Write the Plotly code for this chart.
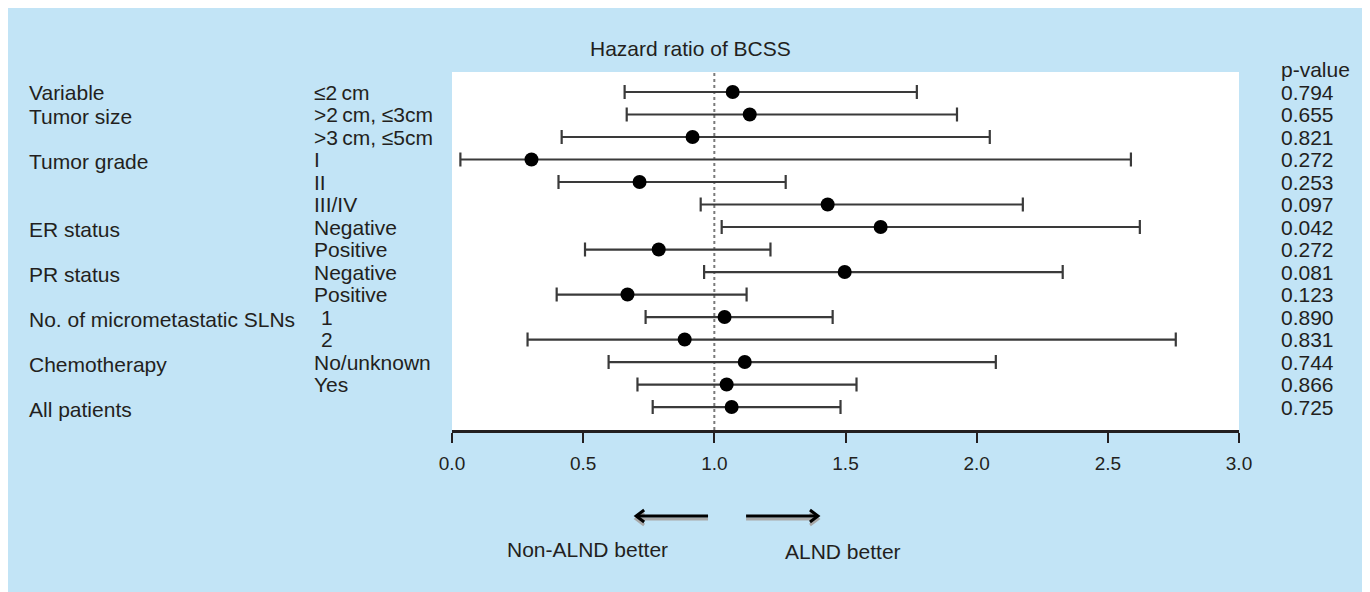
import plotly.graph_objects as go

# ---------------- data ----------------
group_labels = ["Variable", "Tumor size", "Tumor grade", "ER status", "PR status",
                "No. of micrometastatic SLNs", "Chemotherapy", "All patients"]
group_rows = [0, 1, 3, 6, 8, 10, 12, 14]

sub_labels = ["≤2\u2009cm", ">2\u2009cm, ≤3cm", ">3\u2009cm, ≤5cm", "I", "II", "III/IV",
              "Negative", "Positive", "Negative", "Positive", "1", "2",
              "No/unknown", "Yes", ""]

hr = [1.070, 1.135, 0.917, 0.303, 0.715, 1.432, 1.634, 0.788, 1.497, 0.669,
      1.039, 0.887, 1.116, 1.047, 1.066]
ci_low = [0.658, 0.666, 0.418, 0.032, 0.406, 0.948, 1.028, 0.507, 0.961, 0.399,
          0.738, 0.288, 0.597, 0.707, 0.765]
ci_high = [1.772, 1.925, 2.050, 2.588, 1.272, 2.176, 2.622, 1.214, 2.328, 1.123,
           1.451, 2.759, 2.073, 1.542, 1.481]
p_values = ["0.794", "0.655", "0.821", "0.272", "0.253", "0.097", "0.042", "0.272",
            "0.081", "0.123", "0.890", "0.831", "0.744", "0.866", "0.725"]

tick_vals = [0.0, 0.5, 1.0, 1.5, 2.0, 2.5, 3.0]
tick_text = ["0.0", "0.5", "1.0", "1.5", "2.0", "2.5", "3.0"]

title_text = "Hazard ratio of BCSS"
pvalue_header = "p-value"
left_note = "Non-ALND better"
right_note = "ALND better"

# ---------------- styling ----------------
FONT = "Liberation Sans, Arial, Helvetica, sans-serif"
TXT = "#231f20"
BLUE = "#c2e4f6"
FS = 21

rows = list(range(len(hr)))
err_plus = [h - v for h, v in zip(ci_high, hr)]
err_minus = [v - l for v, l in zip(hr, ci_low)]

fig = go.Figure()
fig.add_trace(go.Scatter(
    x=hr, y=rows, mode="markers",
    marker=dict(color="black", size=14, symbol="circle"),
    error_x=dict(type="data", symmetric=False, array=err_plus, arrayminus=err_minus,
                 color="#3a3a3a", thickness=2.2, width=7),
    cliponaxis=False, showlegend=False, hoverinfo="skip"))

# page body has an 8px margin; figure sized to fill the rest of the window
OFF = 8
W, H = 1370 - OFF, 592 - OFF
# window-pixel positions of plot area: x 452..1239, y 72..430
ML, MT = 452 - OFF, 72 - OFF
MR = W - (1239 - OFF)
MB = H - (430 - OFF)
pw = W - ML - MR
ph = H - MT - MB

def px_x(px):  # window px -> paper x
    return (px - OFF - ML) / pw

def px_y(py):  # window px -> paper y
    return (H - MB - (py - OFF)) / ph

shapes = []
shapes.append(dict(type="rect", xref="paper", yref="paper", x0=0, x1=1, y0=0, y1=1,
                   fillcolor="white", line=dict(width=0), layer="below"))
shapes.append(dict(type="line", xref="x", yref="paper", x0=1.0, x1=1.0, y0=0, y1=1,
                   line=dict(color="#7a7a7a", width=2, dash="dot"), layer="below"))

# direction arrows
ay = px_y(516)
unit = pw / 3.0
dx_head = 8 / unit
dy_head = 6 / ph
sh = 3 / ph
for (xt, xh) in [(0.976, 0.702), (1.121, 1.395)]:
    sgn = 1 if xt > xh else -1
    for off, col in [(sh, "#a8a8a8"), (0, "black")]:
        yy = ay - off
        shapes.append(dict(type="line", xref="x", yref="paper", x0=xt, x1=xh,
                           y0=yy, y1=yy, line=dict(color=col, width=3)))
        path = (f"M {xh + sgn*dx_head},{yy + dy_head} L {xh},{yy} "
                f"L {xh + sgn*dx_head},{yy - dy_head}")
        shapes.append(dict(type="path", xref="x", yref="paper", path=path,
                           line=dict(color=col, width=3)))

ann = []
for lab, r in zip(group_labels, group_rows):
    ann.append(dict(text=lab, xref="paper", yref="y", x=px_x(27), y=r,
                    xanchor="left", yanchor="middle", showarrow=False,
                    yshift=0 if r == 0 else -2,
                    font=dict(size=FS, color=TXT, family=FONT)))
for lab, r in zip(sub_labels, rows):
    if not lab:
        continue
    xs = 7 if lab in ("1", "2") else 0
    ann.append(dict(text=lab, xref="paper", yref="y", x=px_x(312), y=r,
                    xanchor="left", yanchor="middle", showarrow=False, xshift=xs,
                    font=dict(size=FS, color=TXT, family=FONT)))
for pv, r in zip(p_values, rows):
    ann.append(dict(text=pv, xref="paper", yref="y", x=px_x(1279), y=r,
                    xanchor="left", yanchor="middle", showarrow=False,
                    font=dict(size=FS, color=TXT, family=FONT)))
ann.append(dict(text=pvalue_header, xref="paper", yref="paper", x=px_x(1279),
                y=px_y(70), xanchor="left", yanchor="middle", showarrow=False,
                font=dict(size=FS, color=TXT, family=FONT)))
ann.append(dict(text=title_text, xref="x", yref="paper", x=0.911, y=px_y(48),
                xanchor="center", yanchor="middle", showarrow=False,
                font=dict(size=FS, color=TXT, family=FONT)))
ann.append(dict(text=left_note, xref="x", yref="paper", x=0.518, y=px_y(549),
                xanchor="center", yanchor="middle", showarrow=False,
                font=dict(size=FS, color=TXT, family=FONT)))
ann.append(dict(text=right_note, xref="x", yref="paper", x=1.491, y=px_y(551),
                xanchor="center", yanchor="middle", showarrow=False,
                font=dict(size=FS, color=TXT, family=FONT)))

fig.update_layout(
    width=W, height=H,
    margin=dict(l=ML, r=MR, t=MT, b=MB, pad=0),
    paper_bgcolor=BLUE, plot_bgcolor="rgba(0,0,0,0)",
    shapes=shapes, annotations=ann, showlegend=False,
    font=dict(family=FONT, color=TXT, size=FS),
)
fig.update_xaxes(range=[0, 3], tickvals=tick_vals, ticktext=tick_text,
                 showgrid=False, zeroline=False, showline=True, linecolor=TXT,
                 linewidth=2.5, ticks="outside", ticklen=10, tickwidth=2,
                 tickcolor=TXT, ticklabelstandoff=4,
                 tickfont=dict(size=19, color=TXT, family=FONT))
fig.update_yaxes(range=[15.02, -0.889], showgrid=False, zeroline=False,
                 showticklabels=False, showline=False, ticks="")

fig.write_html("out.html")
